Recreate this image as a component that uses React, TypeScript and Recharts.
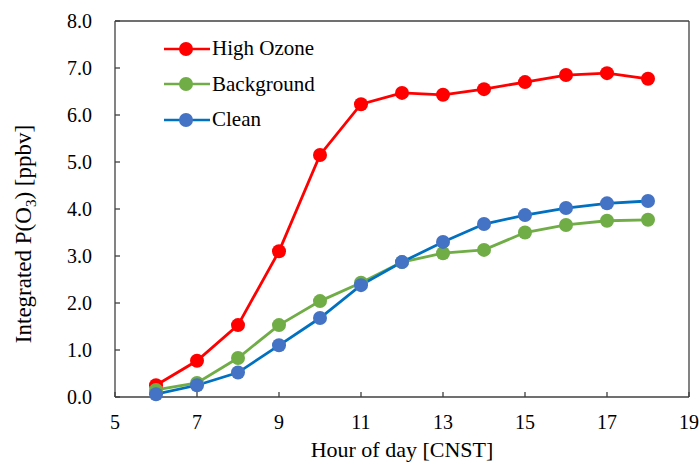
import {
  Label,
  Legend,
  Line,
  LineChart,
  ReferenceLine,
  XAxis,
  YAxis,
} from "recharts";

const hours = [6, 7, 8, 9, 10, 11, 12, 13, 14, 15, 16, 17, 18];
const highOzone = [0.25, 0.77, 1.53, 3.1, 5.15, 6.23, 6.47, 6.43, 6.55, 6.7, 6.85, 6.89, 6.77];
const background = [0.15, 0.3, 0.83, 1.53, 2.04, 2.43, 2.87, 3.06, 3.13, 3.5, 3.66, 3.75, 3.77];
const clean = [0.06, 0.25, 0.52, 1.1, 1.68, 2.38, 2.87, 3.3, 3.68, 3.87, 4.02, 4.12, 4.17];

const xTicks = [5, 7, 9, 11, 13, 15, 17, 19];
const yTicks = [0, 1, 2, 3, 4, 5, 6, 7, 8];

const FONT = "Liberation Serif";
const AXIS = "#404040";

type Series = { key: string; label: string; line: string; dot: string };

const series: Series[] = [
  { key: "high", label: "High Ozone", line: "#ff0000", dot: "#ff0000" },
  { key: "bg", label: "Background", line: "#70ad47", dot: "#70ad47" },
  { key: "clean", label: "Clean", line: "#0070c0", dot: "#4472c4" },
];

const data = hours.map((h, i) => ({
  hour: h,
  high: highOzone[i],
  bg: background[i],
  clean: clean[i],
}));

function XTick({ x, y, payload }: any) {
  // tick text hangs below the axis, ticks point inward
  return (
    <text x={x} y={y + 15} textAnchor="middle" fontFamily={FONT} fontSize={20} fill="#000">
      {payload.value}
    </text>
  );
}

function YTick({ x, y, payload }: any) {
  return (
    <text x={x} y={y + 7} textAnchor="end" fontFamily={FONT} fontSize={20} fill="#000">
      {Number(payload.value).toFixed(1)}
    </text>
  );
}

function LegendBox() {
  return (
    <div style={{ fontFamily: FONT, fontSize: 21, color: "#000" }}>
      {series.map((s) => (
        <div
          key={s.key}
          style={{ display: "flex", alignItems: "center", height: 35.5 }}
        >
          <svg width={48} height={16} style={{ display: "block" }}>
            <line x1={1} x2={47} y1={8} y2={8} stroke={s.line} strokeWidth={2.5} />
            <circle cx={23} cy={8} r={7} fill={s.dot} />
          </svg>
          <span style={{ marginLeft: 1, fontFamily: FONT }}>{s.label}</span>
        </div>
      ))}
    </div>
  );
}

function YTitle() {
  return (
    <text
      x={31}
      y={234}
      transform="rotate(-90, 31, 234)"
      textAnchor="middle"
      fontFamily={FONT}
      fontSize={23}
      fill="#000"
    >
      Integrated P(O
      <tspan dy={5} fontSize={15}>
        3
      </tspan>
      <tspan dy={-5}>) [ppbv]</tspan>
    </text>
  );
}

function XTitle() {
  return (
    <text x={402} y={457} textAnchor="middle" fontFamily={FONT} fontSize={22} fill="#000">
      Hour of day [CNST]
    </text>
  );
}

export default function App() {
  return (
    <div
      style={{
        position: "absolute",
        left: 0,
        top: 0,
        background: "#fff",
        fontFamily: FONT,
      }}
    >
      <LineChart
        width={699}
        height={464}
        data={data}
        margin={{ top: 21, right: 10, left: 0, bottom: 0 }}
      >
        <XAxis
          dataKey="hour"
          type="number"
          domain={[5, 19]}
          ticks={xTicks}
          allowDataOverflow
          height={67}
          tickSize={-5}
          tickMargin={22}
          stroke={AXIS}
          strokeWidth={1.3}
          tick={<XTick />}
        >
          <Label content={<XTitle />} />
        </XAxis>
        <YAxis
          type="number"
          domain={[0, 8]}
          ticks={yTicks}
          width={115}
          tickSize={-5}
          tickMargin={28}
          stroke={AXIS}
          strokeWidth={1.3}
          tick={<YTick />}
        >
          <Label content={<YTitle />} />
        </YAxis>
        <ReferenceLine y={8} stroke={AXIS} strokeWidth={1.3} />
        <ReferenceLine x={19} stroke={AXIS} strokeWidth={1.3} />
        <Legend
          layout="vertical"
          align="center"
          verticalAlign="middle"
          wrapperStyle={{ left: 163, top: 31, width: 200 }}
          content={() => <LegendBox />}
        />
        {series.map((s) => (
          <Line
            key={s.key}
            dataKey={s.key}
            name={s.label}
            type="linear"
            stroke={s.line}
            strokeWidth={2.8}
            dot={{ r: 7, fill: s.dot, stroke: "none" }}
            activeDot={false}
            isAnimationActive={false}
          />
        ))}
      </LineChart>
    </div>
  );
}
